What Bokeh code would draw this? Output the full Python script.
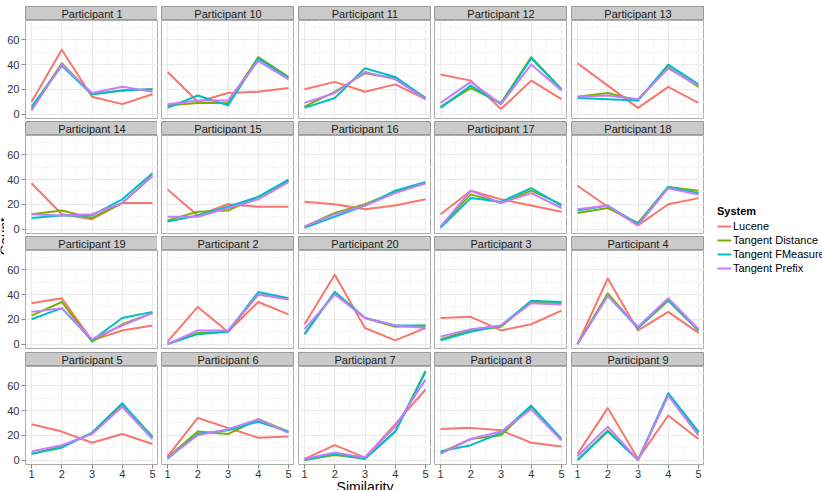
import math
from bokeh.plotting import figure
from bokeh.layouts import row
from bokeh.models import Range1d, FixedTicker, Grid, GridPlot, Toolbar, Legend, LegendItem
from bokeh.embed import file_html
from bokeh.resources import INLINE
from bokeh.core.properties import value

# ---------------- data ----------------
similarity = [1, 2, 3, 4, 5]
participants = ["Participant 1", "Participant 10", "Participant 11", "Participant 12", "Participant 13",
                "Participant 14", "Participant 15", "Participant 16", "Participant 17", "Participant 18",
                "Participant 19", "Participant 2", "Participant 20", "Participant 3", "Participant 4",
                "Participant 5", "Participant 6", "Participant 7", "Participant 8", "Participant 9"]
systems = ["Lucene", "Tangent Distance", "Tangent FMeasure", "Tangent Prefix"]
colors = ["#F8766D", "#7CAE00", "#00BFC4", "#C77CFF"]

lucene = [
    [10, 52, 14, 8, 16], [34, 10, 17, 18, 21], [20, 26, 18, 24, 12], [32, 27, 4, 27, 12], [41, 23, 5, 22, 9],
    [37, 12, 8, 21, 21], [32, 11, 20, 18, 18], [22, 20, 16, 19, 24], [12, 31, 24, 19, 14], [35, 18, 3, 20, 25],
    [33, 37, 3, 11, 15], [2, 30, 10, 34, 24], [16, 56, 13, 3, 13], [21, 22, 11, 16, 27], [0, 53, 11, 26, 9],
    [29, 23, 14, 21, 13], [3, 34, 26, 18, 19], [1, 12, 2, 29, 57], [25, 26, 24, 14, 11], [5, 42, 1, 36, 17],
]
tangent_distance = [
    [4, 41, 16, 19, 20], [7, 9, 9, 46, 30], [6, 18, 33, 29, 13], [6, 21, 9, 46, 20], [14, 17, 11, 38, 22],
    [12, 15, 9, 21, 43], [7, 14, 15, 26, 39], [2, 13, 20, 30, 37], [2, 28, 21, 31, 20], [13, 17, 5, 34, 31],
    [23, 34, 2, 16, 25], [0, 9, 10, 40, 37], [8, 42, 21, 14, 15], [4, 11, 14, 34, 33], [0, 41, 13, 35, 11],
    [5, 11, 22, 45, 19], [2, 23, 21, 33, 23], [0, 4, 1, 23, 72], [6, 17, 20, 43, 17], [0, 24, 0, 53, 22],
]
tangent_fmeasure = [
    [6, 39, 16, 19, 20], [5, 15, 7, 45, 29], [5, 13, 37, 30, 13], [5, 23, 8, 45, 20], [13, 12, 11, 40, 24],
    [9, 11, 11, 24, 45], [6, 11, 18, 26, 40], [1, 10, 19, 31, 38], [1, 25, 22, 33, 19], [15, 19, 4, 34, 29],
    [20, 29, 3, 21, 26], [0, 8, 10, 42, 37], [8, 42, 21, 15, 15], [3, 10, 15, 35, 34], [0, 39, 13, 36, 11],
    [5, 10, 22, 46, 18], [1, 21, 24, 31, 23], [0, 5, 1, 23, 71], [7, 12, 22, 44, 17], [0, 23, 0, 54, 23],
]
tangent_prefix = [
    [3, 40, 17, 22, 18], [8, 11, 11, 43, 28], [9, 17, 34, 28, 12], [9, 26, 8, 40, 19], [14, 15, 12, 37, 23],
    [12, 11, 12, 21, 43], [10, 10, 17, 24, 38], [2, 12, 19, 29, 37], [2, 31, 21, 29, 17], [16, 19, 3, 33, 28],
    [26, 29, 4, 15, 25], [0, 11, 11, 40, 36], [12, 40, 21, 15, 13], [6, 12, 15, 33, 32], [0, 39, 14, 37, 12],
    [7, 12, 21, 43, 17], [2, 20, 25, 33, 22], [1, 6, 2, 27, 65], [5, 17, 23, 41, 16], [3, 27, 0, 52, 20],
]
series = [lucene, tangent_distance, tangent_fmeasure, tangent_prefix]

x_ticks = [1, 2, 3, 4, 5]
x_minor = [1.5, 2.5, 3.5, 4.5]
y_ticks = [0, 20, 40, 60]
y_minor = [10, 30, 50, 70]
x_label = "Similarity"
y_label = "Count"
legend_title = "System"

# ---------------- style / layout ----------------
FONT = "Liberation Sans"
NCOL = 5
FRAME_W = 133
FRAME_H = 98
STRIP_H = 14
COL_LEFT = [20, 3, 4, 3, 4]
TOP_GAP = 6
ROW_BOTTOM = [3, 3, 4]       # white gap under the panels of rows 1-3
PAGE_H = 490
COUNT_W = 4
COUNT_CENTER = 236           # px from the top of the page
LEGEND_W = 119
LEGEND_LEFT = 13
SIDE_TOP = 205               # top border shared by the two side figures
LABEL_CENTER_COL = 2          # column whose x-axis carries the shared x title

STRIP_FILL = "#CACACA"
STRIP_LINE = "#9A9A9A"
PANEL_LINE = "#ABABAB"
GRID_MAJ = "#EAEAEA"
GRID_MIN = "#F6F6F6"
TICK_COL = "#8A8A8A"
TEXT_COL = "#333333"

xmin, xmax = min(similarity), max(similarity)
xr = (xmin - 0.2, xmax + 0.2)
allv = [v for s in series for row_ in s for v in row_]
ymin, ymax = min(allv), max(allv)
ypad = 0.05 * (ymax - ymin)
yr = (ymin - ypad, ymax + ypad)


def base_fig(**kw):
    f = figure(toolbar_location=None, output_backend="svg", **kw)
    f.center = [o for o in f.center if not isinstance(o, Grid)]
    return f


children = []
nrows = (len(participants) + NCOL - 1) // NCOL

for i, name in enumerate(participants):
    r, c = divmod(i, NCOL)
    left = COL_LEFT[c]
    last = (r == nrows - 1)

    # strip
    top = TOP_GAP if r == 0 else 0
    s = base_fig(frame_width=FRAME_W, frame_height=STRIP_H,
                 x_range=Range1d(0, 1), y_range=Range1d(0, 1),
                 x_axis_location=None, y_axis_location=None,
                 min_border_left=left, min_border_right=0,
                 min_border_top=top, min_border_bottom=0)
    s.background_fill_color = STRIP_FILL
    s.border_fill_color = "white"
    s.outline_line_color = STRIP_LINE
    s.text(x=[0.5], y=[0.5], text=[name], text_align="center", text_baseline="middle",
           text_font=value(FONT), text_font_size="11px", text_color="#1A1A1A")
    children.append((s, 2 * r, c))

    # panel
    bottom = 0 if last else ROW_BOTTOM[r]
    p = base_fig(frame_width=FRAME_W, frame_height=FRAME_H,
                 x_range=Range1d(*xr), y_range=Range1d(*yr),
                 x_axis_location="below" if last else None,
                 y_axis_location="left" if c == 0 else None,
                 min_border_left=left, min_border_right=0,
                 min_border_top=0, min_border_bottom=bottom)
    p.background_fill_color = "white"
    p.border_fill_color = "white"
    p.outline_line_color = PANEL_LINE
    p.add_layout(Grid(dimension=0, ticker=FixedTicker(ticks=x_ticks, minor_ticks=x_minor),
                      grid_line_color=GRID_MAJ, minor_grid_line_color=GRID_MIN), "center")
    p.add_layout(Grid(dimension=1, ticker=FixedTicker(ticks=y_ticks, minor_ticks=y_minor),
                      grid_line_color=GRID_MAJ, minor_grid_line_color=GRID_MIN), "center")
    for ax, tk in ((p.xaxis, x_ticks), (p.yaxis, y_ticks)):
        ax.ticker = FixedTicker(ticks=tk)
        ax.axis_line_color = None
        ax.major_tick_out = 4
        ax.major_tick_in = 0
        ax.minor_tick_out = 0
        ax.minor_tick_in = 0
        ax.major_tick_line_color = TICK_COL
        ax.major_label_text_font = FONT
        ax.major_label_text_font_size = "11px"
        ax.major_label_text_color = TEXT_COL
    p.xaxis.major_label_standoff = 1
    p.yaxis.major_label_standoff = 2
    if last and c == LABEL_CENTER_COL:
        p.xaxis.axis_label = x_label
        p.xaxis.axis_label_text_font = FONT
        p.xaxis.axis_label_text_font_size = "14px"
        p.xaxis.axis_label_text_font_style = "normal"
        p.xaxis.axis_label_text_color = "black"
        p.xaxis.axis_label_standoff = -2

    for vals, col in zip(series, colors):
        p.line(similarity, vals[i], line_color=col, line_width=2, line_join="round")
    children.append((p, 2 * r + 1, c))

panels = GridPlot(children=children, toolbar=Toolbar(), toolbar_location=None, spacing=0)

# y-axis title; both side figures share the same top border so their frames line up
cf = base_fig(width=COUNT_W, height=PAGE_H, x_range=Range1d(0, 1), y_range=Range1d(0, 1),
              x_axis_location=None, y_axis_location=None, min_border=0, min_border_top=SIDE_TOP)
cf.outline_line_color = None
count_y = 1 - (COUNT_CENTER - SIDE_TOP) / (PAGE_H - SIDE_TOP)
cf.text(x=[1], y=[count_y], text=[y_label], angle=math.pi / 2, text_align="center",
        text_baseline="alphabetic", text_font=value(FONT), text_font_size="14px", text_color="black")

# legend
lf = base_fig(width=LEGEND_W, height=PAGE_H, x_range=Range1d(0, 1), y_range=Range1d(0, 1),
              x_axis_location=None, y_axis_location=None, min_border=0,
              min_border_left=LEGEND_LEFT, min_border_top=SIDE_TOP)
lf.outline_line_color = None
items = []
for name, col in zip(systems, colors):
    rnd = lf.line(x=[-2, -1], y=[-2, -1], line_color=col, line_width=2)
    items.append(LegendItem(label=name, renderers=[rnd]))
legend = Legend(items=items, location="top_left", title=legend_title,
                title_text_font=FONT, title_text_font_size="11px", title_text_font_style="bold",
                title_text_color="black", title_standoff=2,
                label_text_font=FONT, label_text_font_size="11px", label_text_color="black",
                glyph_width=14, glyph_height=14, label_height=14, label_standoff=2,
                spacing=0, padding=0, margin=0, border_line_color=None, background_fill_alpha=0)
lf.add_layout(legend)

page = row(cf, panels, lf)

open("out.html", "w").write(file_html(page, INLINE, title="Similarity counts"))
